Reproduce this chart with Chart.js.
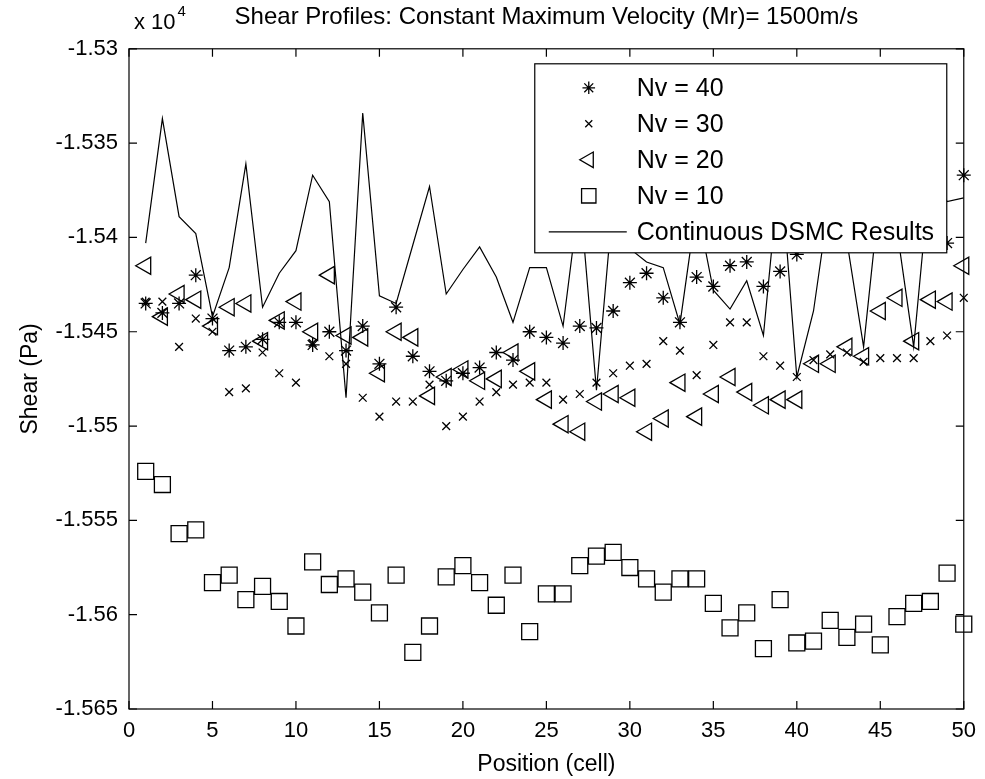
<!DOCTYPE html>
<html><head><meta charset="utf-8">
<script src="https://cdn.jsdelivr.net/npm/chart.js@4/dist/chart.umd.min.js"></script>
<style>html,body{margin:0;padding:0;background:#fff;}canvas{display:block;}</style>
</head><body>
<canvas id="c" width="985" height="779"></canvas>
<script>
// ---- data (values in units of 10^4 Pa) ----
const positions = [1,2,3,4,5,6,7,8,9,10,11,12,13,14,15,16,17,18,19,20,21,22,23,24,25,26,27,28,29,30,31,32,33,34,35,36,37,38,39,40,41,42,43,44,45,46,47,48,49,50];
const nv40 = [-1.5435,-1.5440,-1.5435,-1.5420,-1.5443,-1.5460,-1.5458,-1.5454,-1.5445,-1.5445,-1.5457,-1.5450,-1.5460,-1.5447,-1.5467,-1.5437,-1.5463,-1.5471,-1.5476,-1.5472,-1.5469,-1.5461,-1.5465,-1.5450,-1.5453,-1.5456,-1.5447,-1.5448,-1.5439,-1.5424,-1.5419,-1.5432,-1.5445,-1.5421,-1.5426,-1.5415,-1.5413,-1.5426,-1.5418,-1.5409,-1.5398,-1.5396,-1.5400,-1.5394,-1.5397,-1.5392,-1.5399,-1.5395,-1.5403,-1.5367];
const nv30 = [-1.5434,-1.5434,-1.5458,-1.5443,-1.5450,-1.5482,-1.5480,-1.5461,-1.5472,-1.5477,-1.5456,-1.5463,-1.5467,-1.5485,-1.5495,-1.5487,-1.5487,-1.5478,-1.5500,-1.5495,-1.5487,-1.5482,-1.5478,-1.5477,-1.5477,-1.5486,-1.5483,-1.5477,-1.5472,-1.5468,-1.5467,-1.5455,-1.5460,-1.5473,-1.5457,-1.5445,-1.5445,-1.5463,-1.5468,-1.5474,-1.5465,-1.5462,-1.5461,-1.5466,-1.5464,-1.5464,-1.5464,-1.5455,-1.5452,-1.5432];
const nv20 = [-1.5415,-1.5442,-1.5430,-1.5433,-1.5447,-1.5437,-1.5435,-1.5455,-1.5444,-1.5434,-1.5450,-1.5420,-1.5452,-1.5453,-1.5472,-1.5450,-1.5453,-1.5484,-1.5474,-1.5470,-1.5476,-1.5475,-1.5461,-1.5471,-1.5486,-1.5499,-1.5503,-1.5487,-1.5483,-1.5485,-1.5503,-1.5496,-1.5477,-1.5495,-1.5483,-1.5474,-1.5482,-1.5489,-1.5486,-1.5486,-1.5467,-1.5467,-1.5458,-1.5463,-1.5439,-1.5432,-1.5455,-1.5433,-1.5434,-1.5415];
const nv10 = [-1.5524,-1.5531,-1.5557,-1.5555,-1.5583,-1.5579,-1.5592,-1.5585,-1.5593,-1.5606,-1.5572,-1.5584,-1.5581,-1.5588,-1.5599,-1.5579,-1.5620,-1.5606,-1.5580,-1.5574,-1.5583,-1.5595,-1.5579,-1.5609,-1.5589,-1.5589,-1.5574,-1.5569,-1.5567,-1.5575,-1.5581,-1.5588,-1.5581,-1.5581,-1.5594,-1.5607,-1.5599,-1.5618,-1.5592,-1.5615,-1.5614,-1.5603,-1.5612,-1.5605,-1.5616,-1.5601,-1.5594,-1.5593,-1.5578,-1.5605];
const dsmc = [-1.5403,-1.5337,-1.5389,-1.5398,-1.5442,-1.5416,-1.5361,-1.5437,-1.5419,-1.5407,-1.5367,-1.5381,-1.5485,-1.5334,-1.5431,-1.5435,-1.5404,-1.5373,-1.5430,-1.5417,-1.5405,-1.5421,-1.5445,-1.5416,-1.5416,-1.5447,-1.5377,-1.5481,-1.5380,-1.5406,-1.5413,-1.5416,-1.5446,-1.5383,-1.5428,-1.5438,-1.5423,-1.5452,-1.5360,-1.5474,-1.5439,-1.5377,-1.5402,-1.5458,-1.5374,-1.5396,-1.5458,-1.5364,-1.5381,-1.5379];
const xTickValues = [0,5,10,15,20,25,30,35,40,45,50];
const xTickLabels = ['0','5','10','15','20','25','30','35','40','45','50'];
const yTickValues = [-1.565,-1.56,-1.555,-1.55,-1.545,-1.54,-1.535,-1.53];
const yTickLabels = ['-1.565','-1.56','-1.555','-1.55','-1.545','-1.54','-1.535','-1.53'];
const seriesNames = ['Nv = 40','Nv = 30','Nv = 20','Nv = 10','Continuous DSMC Results'];

const FONT = "'Liberation Sans', Arial, Helvetica, sans-serif";
Chart.defaults.font.family = FONT;
Chart.defaults.color = '#000';

const toXY = arr => positions.map((p, i) => ({x: p, y: arr[i]}));
const NONE = 'rgba(0,0,0,0)';
const markerStyles = [
  {pointStyle: 'star', radius: 7, rotation: 0, borderWidth: 1.3},
  {pointStyle: 'crossRot', radius: 5.5, rotation: 0, borderWidth: 1.3},
  {pointStyle: 'triangle', radius: 10, rotation: -90, borderWidth: 1.3},
  {pointStyle: 'rect', radius: 11.3, rotation: 0, borderWidth: 1.3}
];
const seriesData = [nv40, nv30, nv20, nv10];

const datasets = seriesData.map((arr, i) => ({
  label: seriesNames[i],
  data: toXY(arr),
  showLine: false,
  pointStyle: markerStyles[i].pointStyle,
  pointRadius: markerStyles[i].radius,
  pointRotation: markerStyles[i].rotation,
  pointBorderWidth: markerStyles[i].borderWidth,
  pointBorderColor: '#000',
  pointBackgroundColor: NONE,
  borderColor: '#000',
  backgroundColor: NONE,
  clip: false
}));
datasets.push({
  label: seriesNames[4],
  data: toXY(dsmc),
  showLine: true,
  pointRadius: 0,
  borderColor: '#000',
  borderWidth: 1.2,
  backgroundColor: NONE,
  tension: 0
});

const frameAndTicks = {
  id: 'frameAndTicks',
  afterDraw(chart) {
    const {ctx, chartArea: a, scales: {x, y}} = chart;
    ctx.save();
    ctx.strokeStyle = '#000';
    ctx.lineWidth = 1.2;
    ctx.strokeRect(a.left, a.top, a.right - a.left, a.bottom - a.top);
    const L = 8;
    ctx.beginPath();
    xTickValues.forEach(v => {
      const px = x.getPixelForValue(v);
      ctx.moveTo(px, a.bottom); ctx.lineTo(px, a.bottom - L);
      ctx.moveTo(px, a.top); ctx.lineTo(px, a.top + L);
    });
    yTickValues.forEach(v => {
      const py = y.getPixelForValue(v);
      ctx.moveTo(a.left, py); ctx.lineTo(a.left + L, py);
      ctx.moveTo(a.right, py); ctx.lineTo(a.right - L, py);
    });
    ctx.stroke();
    // exponent label
    ctx.fillStyle = '#000';
    ctx.textBaseline = 'alphabetic';
    ctx.textAlign = 'left';
    ctx.font = "22px " + FONT;
    ctx.fillText('x 10', a.left + 5, a.top - 20);
    const w = ctx.measureText('x 10').width;
    ctx.font = "15px " + FONT;
    ctx.fillText('4', a.left + 7 + w, a.top - 33);
    ctx.restore();
  }
};

const boxLegend = {
  id: 'boxLegend',
  afterDatasetsDraw(chart) {
    const {ctx, chartArea: a} = chart;
    const W = 412, H = 189;
    const left = a.right - 17 - W, top = a.top + 15;
    ctx.save();
    ctx.fillStyle = '#fff';
    ctx.fillRect(left, top, W, H);
    ctx.strokeStyle = '#000';
    ctx.lineWidth = 1.2;
    ctx.strokeRect(left, top, W, H);
    ctx.font = "25px " + FONT;
    ctx.textBaseline = 'middle';
    ctx.textAlign = 'left';
    const rowH = 36, firstY = top + 24;
    seriesNames.forEach((name, i) => {
      const cy = firstY + i * rowH;
      ctx.strokeStyle = '#000';
      ctx.fillStyle = NONE;
      if (i < 4) {
        const m = markerStyles[i];
        ctx.lineWidth = m.borderWidth;
        Chart.helpers.drawPoint(ctx, {pointStyle: m.pointStyle, radius: m.radius * 0.9, rotation: m.rotation, borderWidth: m.borderWidth}, left + 54, cy);
      } else {
        ctx.lineWidth = 1.2;
        ctx.beginPath();
        ctx.moveTo(left + 14, cy);
        ctx.lineTo(left + 92, cy);
        ctx.stroke();
      }
      ctx.fillStyle = '#000';
      ctx.fillText(name, left + 102, cy + 1);
    });
    ctx.restore();
  }
};

new Chart(document.getElementById('c'), {
  type: 'scatter',
  data: {datasets},
  options: {
    responsive: false,
    animation: false,
    devicePixelRatio: 1,
    layout: {padding: {left: 0, right: 20, top: 0, bottom: 0}},
    plugins: {
      legend: {display: false},
      tooltip: {enabled: false},
      title: {
        display: true,
        text: 'Shear Profiles: Constant Maximum Velocity (Mr)= 1500m/s',
        font: {size: 24, weight: 'normal', family: FONT},
        color: '#000',
        padding: {top: 3, bottom: 17},
        fullSize: false
      }
    },
    scales: {
      x: {
        type: 'linear', min: 0, max: 50,
        afterBuildTicks: s => { s.ticks = xTickValues.map(v => ({value: v})); },
        afterFit: s => { s.height = 70; },
        ticks: {callback: (v, i) => xTickLabels[i], font: {size: 22}, color: '#000', padding: 9, maxRotation: 0, autoSkip: false},
        grid: {display: false, drawTicks: false},
        border: {display: false},
        title: {display: true, text: 'Position (cell)', font: {size: 23}, color: '#000', padding: {top: 0, bottom: 1}}
      },
      y: {
        type: 'linear', min: -1.565, max: -1.53,
        afterBuildTicks: s => { s.ticks = yTickValues.map(v => ({value: v})); },
        afterFit: s => { s.width = 129; },
        ticks: {callback: (v, i) => yTickLabels[i], font: {size: 22}, color: '#000', padding: 11, autoSkip: false},
        grid: {display: false, drawTicks: false},
        border: {display: false},
        title: {display: true, text: 'Shear (Pa)', font: {size: 23}, color: '#000', padding: {top: 17, bottom: 0}}
      }
    }
  },
  plugins: [boxLegend, frameAndTicks]
});
</script>
</body></html>
